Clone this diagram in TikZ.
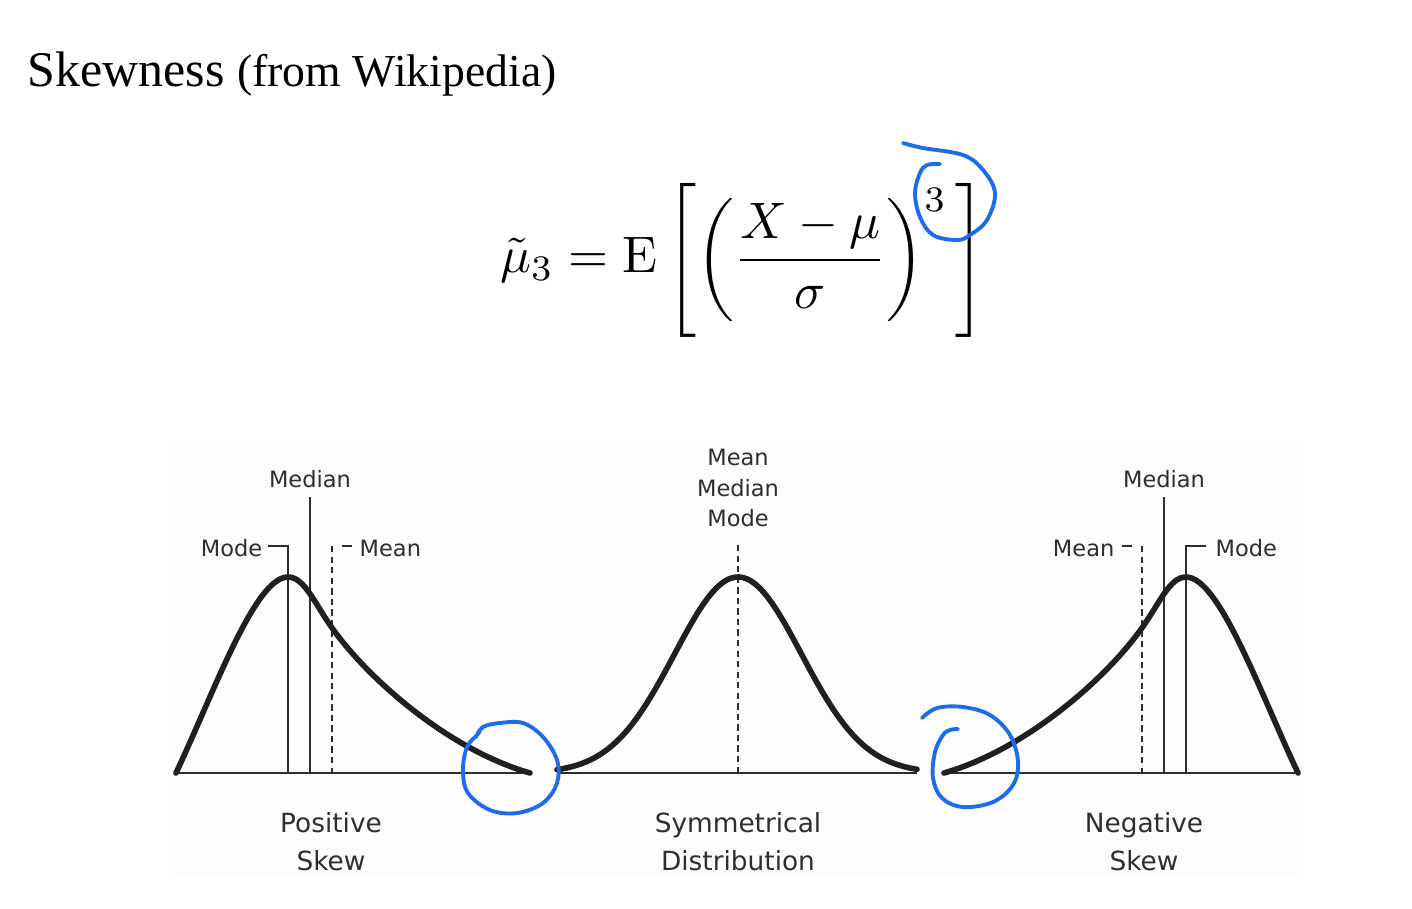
\documentclass[tikz,border=0pt]{standalone}
\usepackage[no-math]{fontspec}
\setmainfont{Liberation Serif}
\newfontfamily\chartfont{DejaVu Sans}
\usetikzlibrary{positioning}
\definecolor{Ink}{HTML}{202020}
\definecolor{Grey}{HTML}{2E2E2E}
\definecolor{Pen}{HTML}{1C6DEB}
\definecolor{Paper}{HTML}{FDFDFD}
\tikzset{curve/.style={draw=Ink,line width=1.6pt,line cap=round},guide/.style={draw=Grey,line width=0.55pt},meanline/.style={guide,dash pattern=on 1.8pt off 1.2pt},pen/.style={draw=Pen,line width=1.1pt,line cap=round,line join=round},tag/.style={font=\chartfont\fontsize{6.4}{8.7}\selectfont,text=Grey,inner sep=0pt},caption/.style={font=\chartfont\fontsize{7.5}{10.7}\selectfont,text=Grey,align=center,inner sep=0pt}}
% one skewed curve with its axis and guide lines
\newcommand{\skewshape}{%
\draw[guide] (176,773) -- (530,773);
\draw[guide] (268,546) -- (288,546) -- (288,773);
\draw[guide] (310,497) -- (310,773);
\draw[meanline] (332,546) -- (332,773);
\draw[guide] (342,546) -- (352,546);
\draw[curve] (176,773) .. controls (215,690) and (255,577) .. (288,577) .. controls (305,577) and (315,605) .. (335,632) .. controls (372,682) and (450,750) .. (530,773);}

\begin{document}
\begin{tikzpicture}[x=0.01cm,y=-0.01cm]
\useasboundingbox (0,0) rectangle (1412,908);
\node[anchor=base west,inner sep=0pt,font=\fontsize{14.2}{17}\selectfont] (title) at (27,86) {Skewness {\fontsize{13}{15}\selectfont(from Wikipedia)}};
\node[inner sep=0pt,scale=1.46] (formula) at (743,260) {$\displaystyle \tilde{\mu}_3 = \mathrm{E}\left[\left(\frac{X-\mu}{\sigma}\right)^{3}\,\right]$};
\fill[Paper] (174,443) rectangle (1302,876);
% positive skew
\skewshape
% symmetrical
\draw[guide] (557,773) -- (917,773);
\draw[meanline] (738,545) -- (738,773);
\draw[curve] plot[domain=557:917,samples=90,smooth] (\x,{773-196*exp(-((\x-738)/63.5)*((\x-738)/63.5)/2)});
% negative skew
\begin{scope}[shift={(1474,0)},xscale=-1]
\skewshape
\end{scope}
% labels
\node[tag,anchor=base east] (lmode) at (263,556) {Mode};
\node[tag,anchor=base] (lmedian) at (310,487) {Median};
\node[tag,anchor=base west] (lmean) at (359,556) {Mean};
\node[tag,align=center,anchor=south] (centre) at (738,528) {Mean\\Median\\Mode};
\node[tag,anchor=base east] (rmean) at (1115,556) {Mean};
\node[tag,anchor=base] (rmedian) at (1164,487) {Median};
\node[tag,anchor=base west] (rmode) at (1215,556) {Mode};
\node[caption,anchor=north] (pos) at (331,812) {Positive\\Skew};
\node[caption,anchor=north] (sym) at (738,812) {Symmetrical\\Distribution};
\node[caption,anchor=north] (neg) at (1144,812) {Negative\\Skew};
% hand-drawn marks
\draw[pen] plot[smooth,tension=0.6] coordinates {(903,143) (923,148) (963,155) (983,170) (995,193) (987,220) (970,235) (957,240) (933,235) (920,217) (915,193) (920,173) (927,165) (940,164)};
\draw[pen] plot[smooth,tension=0.6] coordinates {(476,737) (483,727) (500,723) (523,723) (543,737) (557,760) (557,783) (543,803) (517,813) (490,810) (468,793) (463,770) (467,747) (477,735) (480,731)};
\draw[pen] plot[smooth,tension=0.6] coordinates {(922,718) (937,708) (963,707) (990,715) (1010,735) (1018,762) (1013,785) (993,802) (963,807) (942,798) (933,778) (935,752) (943,735) (950,730) (958,729)};
\end{tikzpicture}
\end{document}
